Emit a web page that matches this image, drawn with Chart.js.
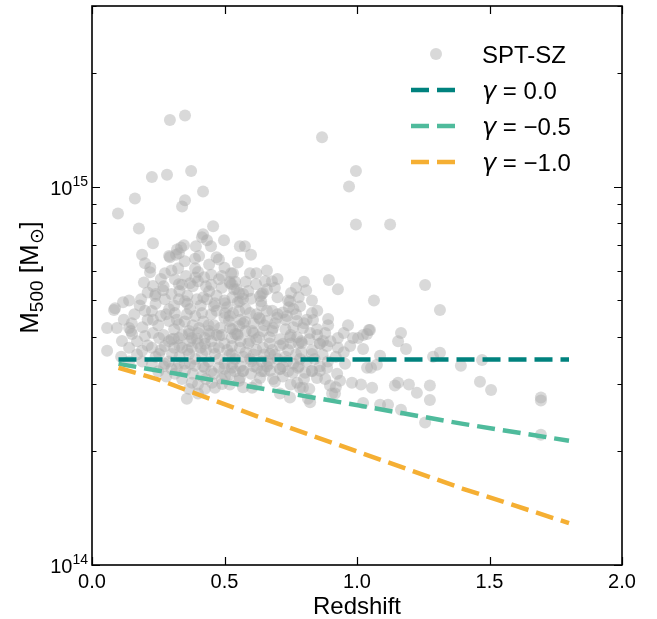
<!DOCTYPE html>
<html>
<head>
<meta charset="utf-8">
<script src="https://cdn.jsdelivr.net/npm/chart.js@4/dist/chart.umd.min.js"></script>
<style>
  html, body { margin: 0; padding: 0; background: #fff; }
  canvas { display: block; }
</style>
</head>
<body>
<canvas id="massChart" width="657" height="619"></canvas>
<script>
// SPT-SZ clusters: redshift and M500 in units of 1e14 Msun
const sptZ = [
  0.294, 0.351, 0.226, 0.283, 0.374, 0.419, 0.162, 0.351, 0.340, 0.098,
  0.177, 0.457, 0.230, 0.419, 0.434, 0.498, 0.449, 0.577, 0.347, 0.336,
  0.392, 0.317, 0.189, 0.291, 0.404, 0.479, 0.868, 0.996, 0.970, 0.996,
  1.125, 1.257, 1.064, 1.313, 1.049, 1.166, 1.155, 1.185, 1.087, 1.287,
  1.313, 1.472, 1.392, 1.075, 1.053, 1.155, 1.143, 1.196, 1.275, 1.464,
  1.506, 1.226, 1.057, 1.275, 1.087, 1.117, 1.166, 1.694, 1.694, 1.257,
  1.694, 1.015, 1.023, 0.955, 0.936, 0.925, 0.917, 1.038, 1.023, 0.974,
  0.894, 0.928, 0.808, 0.751, 0.596, 0.532, 0.679, 0.653, 0.619, 0.645,
  0.634, 0.638, 0.747, 0.785, 0.830, 0.743, 0.891, 0.891, 0.966, 1.045,
  1.023, 0.834, 0.849, 0.796, 0.774, 0.736, 0.698, 0.660, 0.634, 0.577,
  0.596, 0.558, 0.570, 0.547, 0.528, 0.532, 0.683, 0.645, 0.747, 0.774,
  0.823, 0.928, 0.985, 0.872, 1.038, 1.004, 0.860, 0.887, 0.928, 0.830,
  0.792, 0.721, 0.672, 0.645, 0.596, 0.558, 0.547, 0.604, 0.521, 0.887,
  0.860, 0.830, 0.804, 0.849, 0.774, 0.796, 0.981, 0.906, 0.709, 0.672,
  0.623, 0.570, 0.558, 0.634, 0.683, 0.521, 0.736, 0.596, 0.664, 0.785,
  0.321, 0.415, 0.558, 0.200, 0.219, 0.294, 0.328, 0.389, 0.442, 0.325,
  0.275, 0.355, 0.313, 0.389, 0.423, 0.479, 0.525, 0.196, 0.230, 0.268,
  0.328, 0.400, 0.442, 0.521, 0.536, 0.555, 0.140, 0.117, 0.185, 0.238,
  0.275, 0.328, 0.351, 0.396, 0.434, 0.464, 0.502, 0.087, 0.083, 0.226,
  0.291, 0.313, 0.358, 0.415, 0.460, 0.502, 0.555, 0.057, 0.094, 0.140,
  0.147, 0.200, 0.253, 0.291, 0.328, 0.366, 0.404, 0.442, 0.483, 0.517,
  0.555, 0.328, 0.377, 0.426, 0.528, 0.151, 0.113, 0.057, 0.140, 0.189,
  0.226, 0.275, 0.309, 0.366, 0.396, 0.442, 0.479, 0.540, 0.340, 0.377,
  0.426, 0.479, 0.528, 0.253, 0.302, 0.366, 0.415, 0.464, 0.528, 0.226,
  0.275, 0.328, 0.389, 0.426, 0.479, 0.528, 0.351, 0.313, 0.415, 0.502,
  0.377, 0.453, 0.555, 0.366, 0.426, 0.464, 0.358, 0.400, 0.491, 0.604,
  0.709, 0.747, 0.785, 0.815, 0.823, 0.758, 0.777, 0.898,
  // dense core
  0.16, 0.18, 0.21, 0.24, 0.26, 0.27, 0.30, 0.31, 0.33, 0.36,
  0.37, 0.38, 0.41, 0.43, 0.45, 0.47, 0.49, 0.51, 0.53, 0.56,
  0.58, 0.60, 0.62, 0.64, 0.66, 0.68, 0.70, 0.72, 0.76, 0.78,
  0.81, 0.85,
  0.12, 0.15, 0.17, 0.19, 0.21, 0.23, 0.25, 0.27, 0.29, 0.31,
  0.34, 0.35, 0.38, 0.40, 0.42, 0.45, 0.46, 0.49, 0.50, 0.53,
  0.56, 0.58, 0.61, 0.62, 0.65, 0.67, 0.69, 0.71, 0.73, 0.76,
  0.78, 0.80, 0.82, 0.85, 0.88, 0.90, 0.95,
  0.11, 0.14, 0.17, 0.19, 0.21, 0.24, 0.26, 0.29, 0.31, 0.33,
  0.35, 0.36, 0.39, 0.41, 0.44, 0.46, 0.48, 0.50, 0.51, 0.54,
  0.56, 0.58, 0.60, 0.62, 0.64, 0.66, 0.68, 0.70, 0.72, 0.74,
  0.76, 0.79, 0.81, 0.84, 0.87, 0.89, 0.92, 0.95,
  0.25, 0.28, 0.30, 0.34, 0.38, 0.40, 0.43, 0.46, 0.49, 0.52,
  0.54, 0.57, 0.60, 0.62, 0.65, 0.69, 0.72, 0.75, 0.80, 0.82,
  0.88, 0.92,
  0.22, 0.26, 0.30, 0.35, 0.37, 0.40, 0.45, 0.47, 0.50, 0.52,
  0.55, 0.58, 0.62, 0.66, 0.70, 0.80, 0.60,
  0.28, 0.32, 0.36, 0.39, 0.42, 0.44, 0.47, 0.50, 0.52, 0.55,
  0.57, 0.59, 0.61, 0.63, 0.66, 0.68, 0.70, 0.73, 0.75, 0.77,
  0.30, 0.33, 0.37, 0.40, 0.43, 0.47, 0.50, 0.52, 0.55, 0.57,
  0.59, 0.61, 0.63, 0.65, 0.67, 0.69, 0.71, 0.73, 0.75, 0.77,
  0.79, 0.83, 0.86,
  0.27, 0.32, 0.37, 0.42, 0.45, 0.50, 0.53, 0.57, 0.61, 0.64,
  0.67, 0.71, 0.74, 0.78, 0.83, 0.86,
  0.20, 0.23, 0.24, 0.34, 0.39, 0.45, 0.49, 0.54, 0.57, 0.64,
  0.69, 0.74, 0.77, 0.83
];
const sptM = [
  15.0, 15.4, 10.6, 10.75, 11.0, 9.7, 9.3, 9.2, 8.86, 8.49,
  7.75, 7.85, 7.08, 7.48, 7.21, 7.21, 6.95, 6.95, 7.0, 6.9,
  6.95, 6.6, 6.6, 6.55, 6.55, 6.42, 13.5, 11.0, 10.0, 7.94,
  7.94, 5.49, 5.0, 4.72, 4.18, 4.1, 3.9, 3.72, 3.57, 3.55,
  3.64, 3.48, 3.36, 3.38, 3.32, 3.03, 2.98, 3.0, 2.98, 3.05,
  2.9, 2.85, 2.94, 2.73, 2.65, 2.65, 2.57, 2.77, 2.72, 2.38,
  2.21, 3.0, 2.68, 3.4, 3.07, 3.2, 2.84, 3.32, 3.72, 3.79,
  5.66, 5.35, 5.32, 5.23, 5.9, 5.9, 5.62, 5.62, 5.52, 5.23,
  5.14, 4.98, 4.98, 4.83, 4.63, 4.8, 4.47, 4.3, 4.3, 4.18,
  4.05, 4.44, 4.2, 4.23, 4.41, 4.55, 4.5, 4.41, 4.47, 4.39,
  4.63, 4.98, 5.2, 5.35, 5.52, 4.63, 4.23, 4.15, 4.0, 4.0,
  4.1, 3.98, 3.98, 3.91, 4.08, 3.98, 3.84, 3.79, 3.75, 3.61,
  3.86, 3.84, 3.61, 3.75, 3.91, 3.75, 4.08, 4.15, 4.23, 3.32,
  3.26, 3.26, 3.22, 3.12, 3.03, 2.94, 3.03, 2.84, 3.29, 3.26,
  3.32, 3.26, 3.12, 3.12, 3.1, 3.2, 3.46, 3.5, 3.46, 3.5,
  6.82, 7.35, 6.95, 6.27, 5.94, 6.5, 6.66, 6.45, 6.22, 6.08,
  5.9, 5.8, 5.69, 6.08, 5.76, 5.69, 5.9, 5.58, 5.46, 5.32,
  5.52, 5.62, 5.29, 5.55, 5.35, 5.23, 5.0, 4.95, 5.04, 5.14,
  5.04, 5.04, 4.98, 5.04, 5.04, 4.92, 4.92, 4.77, 4.72, 4.69,
  4.74, 4.63, 4.6, 4.63, 4.83, 4.63, 4.69, 4.23, 4.23, 4.23,
  4.15, 4.03, 3.98, 4.41, 4.33, 4.15, 4.23, 4.15, 4.23, 4.41,
  4.28, 3.98, 3.98, 3.98, 3.98, 4.08, 3.91, 3.68, 3.75, 3.68,
  3.75, 3.79, 3.96, 4.08, 3.96, 4.08, 4.03, 4.08, 3.75, 3.75,
  3.84, 3.75, 3.79, 3.61, 3.61, 3.61, 3.61, 3.61, 3.61, 3.40,
  3.40, 3.42, 3.36, 3.32, 3.32, 3.32, 3.26, 3.2, 3.16, 3.16,
  3.03, 3.03, 3.07, 2.92, 2.92, 2.94, 2.75, 2.84, 3.01, 2.94,
  2.84, 2.77, 2.94, 2.75, 2.69, 3.22, 3.32, 2.98,
  // dense core
  4.6, 4.85, 5.25, 4.9, 4.55, 5.45, 5.2, 4.85, 5.3, 5.15,
  4.75, 5.45, 4.85, 5.45, 4.6, 5.15, 5.4, 4.8, 5.1, 4.45,
  4.75, 5.05, 4.6, 4.85, 5.35, 4.7, 5.1, 4.65, 4.75, 5.1,
  4.45, 4.7,
  4.45, 4.35, 3.9, 4.25, 4.45, 4.1, 4.3, 4.05, 3.9, 4.2,
  4.05, 4.4, 4.3, 3.85, 4.4, 3.9, 4.3, 4.05, 4.5, 4.2,
  3.9, 4.15, 4.35, 3.95, 4.3, 4.0, 4.35, 3.95, 4.2, 4.25,
  3.85, 4.35, 3.95, 4.05, 4.1, 3.9, 4.1,
  3.55, 3.45, 3.6, 3.45, 3.8, 3.55, 3.7, 3.45, 3.75, 3.55,
  3.4, 3.7, 3.5, 3.75, 3.45, 3.75, 3.5, 3.4, 3.7, 3.5,
  3.35, 3.65, 3.45, 3.7, 3.45, 3.35, 3.7, 3.5, 3.35, 3.7,
  3.4, 3.65, 3.45, 3.5, 3.6, 3.45, 3.55, 3.65,
  3.25, 3.15, 3.3, 3.1, 3.2, 3.0, 3.1, 3.2, 3.1, 3.0,
  3.25, 2.95, 3.2, 3.0, 3.25, 3.05, 3.15, 3.0, 3.1, 2.92,
  3.1, 2.95,
  6.1, 5.7, 6.0, 6.35, 5.55, 5.95, 5.85, 6.5, 6.1, 5.6,
  6.3, 5.6, 5.9, 6.0, 5.7, 5.6, 6.6,
  4.6, 4.45, 4.9, 4.55, 5.1, 4.3, 4.7, 5.0, 4.55, 4.95,
  4.35, 5.3, 4.1, 4.5, 4.7, 4.15, 4.6, 4.45, 4.05, 4.6,
  3.95, 3.8, 3.9, 4.1, 3.7, 4.05, 3.85, 3.6, 4.05, 3.55,
  3.85, 3.6, 4.0, 3.6, 3.85, 3.6, 3.8, 3.55, 3.85, 3.6,
  3.9, 3.7, 3.85,
  3.35, 3.3, 3.4, 3.35, 3.25, 3.3, 3.4, 3.25, 3.35, 3.25,
  3.4, 3.3, 3.25, 3.35, 3.25, 3.35,
  4.7, 4.45, 5.2, 5.5, 5.75, 5.5, 5.8, 5.6, 5.05, 5.2,
  5.4, 5.0, 5.4, 5.0
];

// mass-limit curves for the three gamma values (1e14 Msun)
const gamma0Z = [0.1, 1.8];
const gamma0M = [3.49, 3.49];
const gamma05Z = [0.1, 0.32, 0.94, 1.4, 1.8];
const gamma05M = [3.40, 3.20, 2.69, 2.36, 2.13];
const gamma10Z = [0.1, 0.245, 0.623, 0.936, 1.4, 1.8];
const gamma10M = [3.32, 3.10, 2.47, 2.07, 1.59, 1.29];

const xTicks = [0.0, 0.5, 1.0, 1.5, 2.0];
const yMajor = [1, 10];          // 1e14, 1e15
const yMajorExp = ['14', '15'];
const yMinor = [2, 3, 4, 5, 6, 7, 8, 9, 20, 30];

const TEAL = '#00827e';
const GREEN = '#4fbb9c';
const ORANGE = '#f5af33';
const DOT = 'rgba(170,170,170,0.45)';
const FONT = '"Liberation Sans", Arial, Helvetica, sans-serif';
const DASH = [18, 8];

const legendItems = [
  { kind: 'dot', label: [{ t: 'SPT-SZ' }] },
  { kind: 'line', color: TEAL, label: [{ t: 'γ', it: true }, { t: ' = 0.0' }] },
  { kind: 'line', color: GREEN, label: [{ t: 'γ', it: true }, { t: ' = −0.5' }] },
  { kind: 'line', color: ORANGE, label: [{ t: 'γ', it: true }, { t: ' = −1.0' }] },
];

const toPoints = (xs, ys) => xs.map((x, i) => ({ x: x, y: ys[i] }));

// draw a run of text pieces (sub/superscripts, italics) left to right
function setFont(ctx, p) {
  const size = p.size || 20;
  ctx.font = (p.it ? 'italic ' : '') + size + 'px ' + (p.it ? '"DejaVu Sans", sans-serif' : FONT);
}
function drawRun(ctx, parts, x, y) {
  parts.forEach(p => {
    setFont(ctx, p);
    ctx.fillText(p.t, x, y + (p.dy || 0));
    x += ctx.measureText(p.t).width;
  });
  return x;
}
function runWidth(ctx, parts) {
  let w = 0;
  parts.forEach(p => { setFont(ctx, p); w += ctx.measureText(p.t).width; });
  return w;
}

const axesPlugin = {
  id: 'axesDecor',
  afterDraw(chart) {
    const { ctx, chartArea: a, scales } = chart;
    const xs = scales.x, ys = scales.y;
    ctx.save();
    ctx.strokeStyle = '#000';
    ctx.fillStyle = '#000';

    // ticks, pointing inwards on all four sides
    ctx.lineWidth = 1.2;
    ctx.beginPath();
    xTicks.forEach(v => {
      const px = Math.round(xs.getPixelForValue(v)) + 0.5;
      ctx.moveTo(px, a.bottom); ctx.lineTo(px, a.bottom - 8);
      ctx.moveTo(px, a.top); ctx.lineTo(px, a.top + 8);
    });
    yMajor.forEach(v => {
      const py = Math.round(ys.getPixelForValue(v)) + 0.5;
      ctx.moveTo(a.left, py); ctx.lineTo(a.left + 8, py);
      ctx.moveTo(a.right, py); ctx.lineTo(a.right - 8, py);
    });
    yMinor.forEach(v => {
      const py = Math.round(ys.getPixelForValue(v)) + 0.5;
      ctx.moveTo(a.left, py); ctx.lineTo(a.left + 4.5, py);
      ctx.moveTo(a.right, py); ctx.lineTo(a.right - 4.5, py);
    });
    ctx.stroke();

    // frame
    ctx.lineWidth = 1.6;
    ctx.strokeRect(a.left, a.top, a.right - a.left, a.bottom - a.top);

    // x tick labels
    ctx.font = '20px ' + FONT;
    ctx.textAlign = 'center';
    ctx.textBaseline = 'alphabetic';
    xTicks.forEach(v => {
      ctx.fillText(v.toFixed(1), xs.getPixelForValue(v), a.bottom + 23);
    });

    // y tick labels 10^14, 10^15
    ctx.textAlign = 'left';
    yMajor.forEach((v, i) => {
      const py = ys.getPixelForValue(v);
      const parts = [{ t: '10', size: 20 }, { t: yMajorExp[i], size: 14, dy: -9 }];
      const w = runWidth(ctx, parts);
      drawRun(ctx, parts, a.left - 4 - w, py + 8);
    });

    // axis titles
    ctx.font = '24px ' + FONT;
    ctx.textAlign = 'center';
    ctx.fillText('Redshift', (a.left + a.right) / 2, a.bottom + 49);

    ctx.save();
    ctx.translate(38, (a.top + a.bottom) / 2 - 8);
    ctx.rotate(-Math.PI / 2);
    ctx.textAlign = 'left';
    const yTitle = [
      { t: 'M', size: 26 }, { t: '500', size: 19, dy: 5 },
      { t: ' [M', size: 26 }, { t: '⊙', size: 19, dy: 5 }, { t: ']', size: 26 }
    ];
    drawRun(ctx, yTitle, -runWidth(ctx, yTitle) / 2, 0);
    ctx.restore();

    // legend, upper right inside the axes
    ctx.textAlign = 'left';
    legendItems.forEach((item, i) => {
      const cy = 54 + i * 36;
      if (item.kind === 'dot') {
        ctx.fillStyle = DOT;
        ctx.beginPath();
        ctx.arc(436, cy, 6, 0, Math.PI * 2);
        ctx.fill();
      } else {
        ctx.strokeStyle = item.color;
        ctx.lineWidth = 4.5;
        ctx.setLineDash(DASH);
        ctx.beginPath();
        ctx.moveTo(411, cy); ctx.lineTo(457, cy);
        ctx.stroke();
        ctx.setLineDash([]);
      }
      ctx.fillStyle = '#000';
      const parts = item.label.map(p => Object.assign({ size: 24 }, p));
      drawRun(ctx, parts, 482, cy + 9);
    });
    ctx.restore();
  }
};

const curveStyle = (color, order) => ({
  type: 'line',
  borderColor: color,
  borderWidth: 4.5,
  borderDash: DASH,
  pointRadius: 0,
  fill: false,
  tension: 0,
  order: order,
});

new Chart(document.getElementById('massChart'), {
  type: 'scatter',
  data: {
    datasets: [
      {
        label: 'SPT-SZ',
        data: toPoints(sptZ, sptM),
        backgroundColor: DOT,
        borderWidth: 0,
        pointRadius: 6,
        order: 3,
      },
      Object.assign({ label: 'γ = 0.0', data: toPoints(gamma0Z, gamma0M) }, curveStyle(TEAL, 2)),
      Object.assign({ label: 'γ = −0.5', data: toPoints(gamma05Z, gamma05M) }, curveStyle(GREEN, 1)),
      Object.assign({ label: 'γ = −1.0', data: toPoints(gamma10Z, gamma10M) }, curveStyle(ORANGE, 0)),
    ]
  },
  options: {
    responsive: false,
    animation: false,
    layout: { padding: { left: 92, right: 35, top: 6, bottom: 54 } },
    plugins: { legend: { display: false }, tooltip: { enabled: false } },
    scales: {
      x: { type: 'linear', min: 0, max: 2, display: false },
      y: { type: 'logarithmic', min: 1, max: 30, display: false },
    }
  },
  plugins: [axesPlugin]
});
</script>
</body>
</html>
